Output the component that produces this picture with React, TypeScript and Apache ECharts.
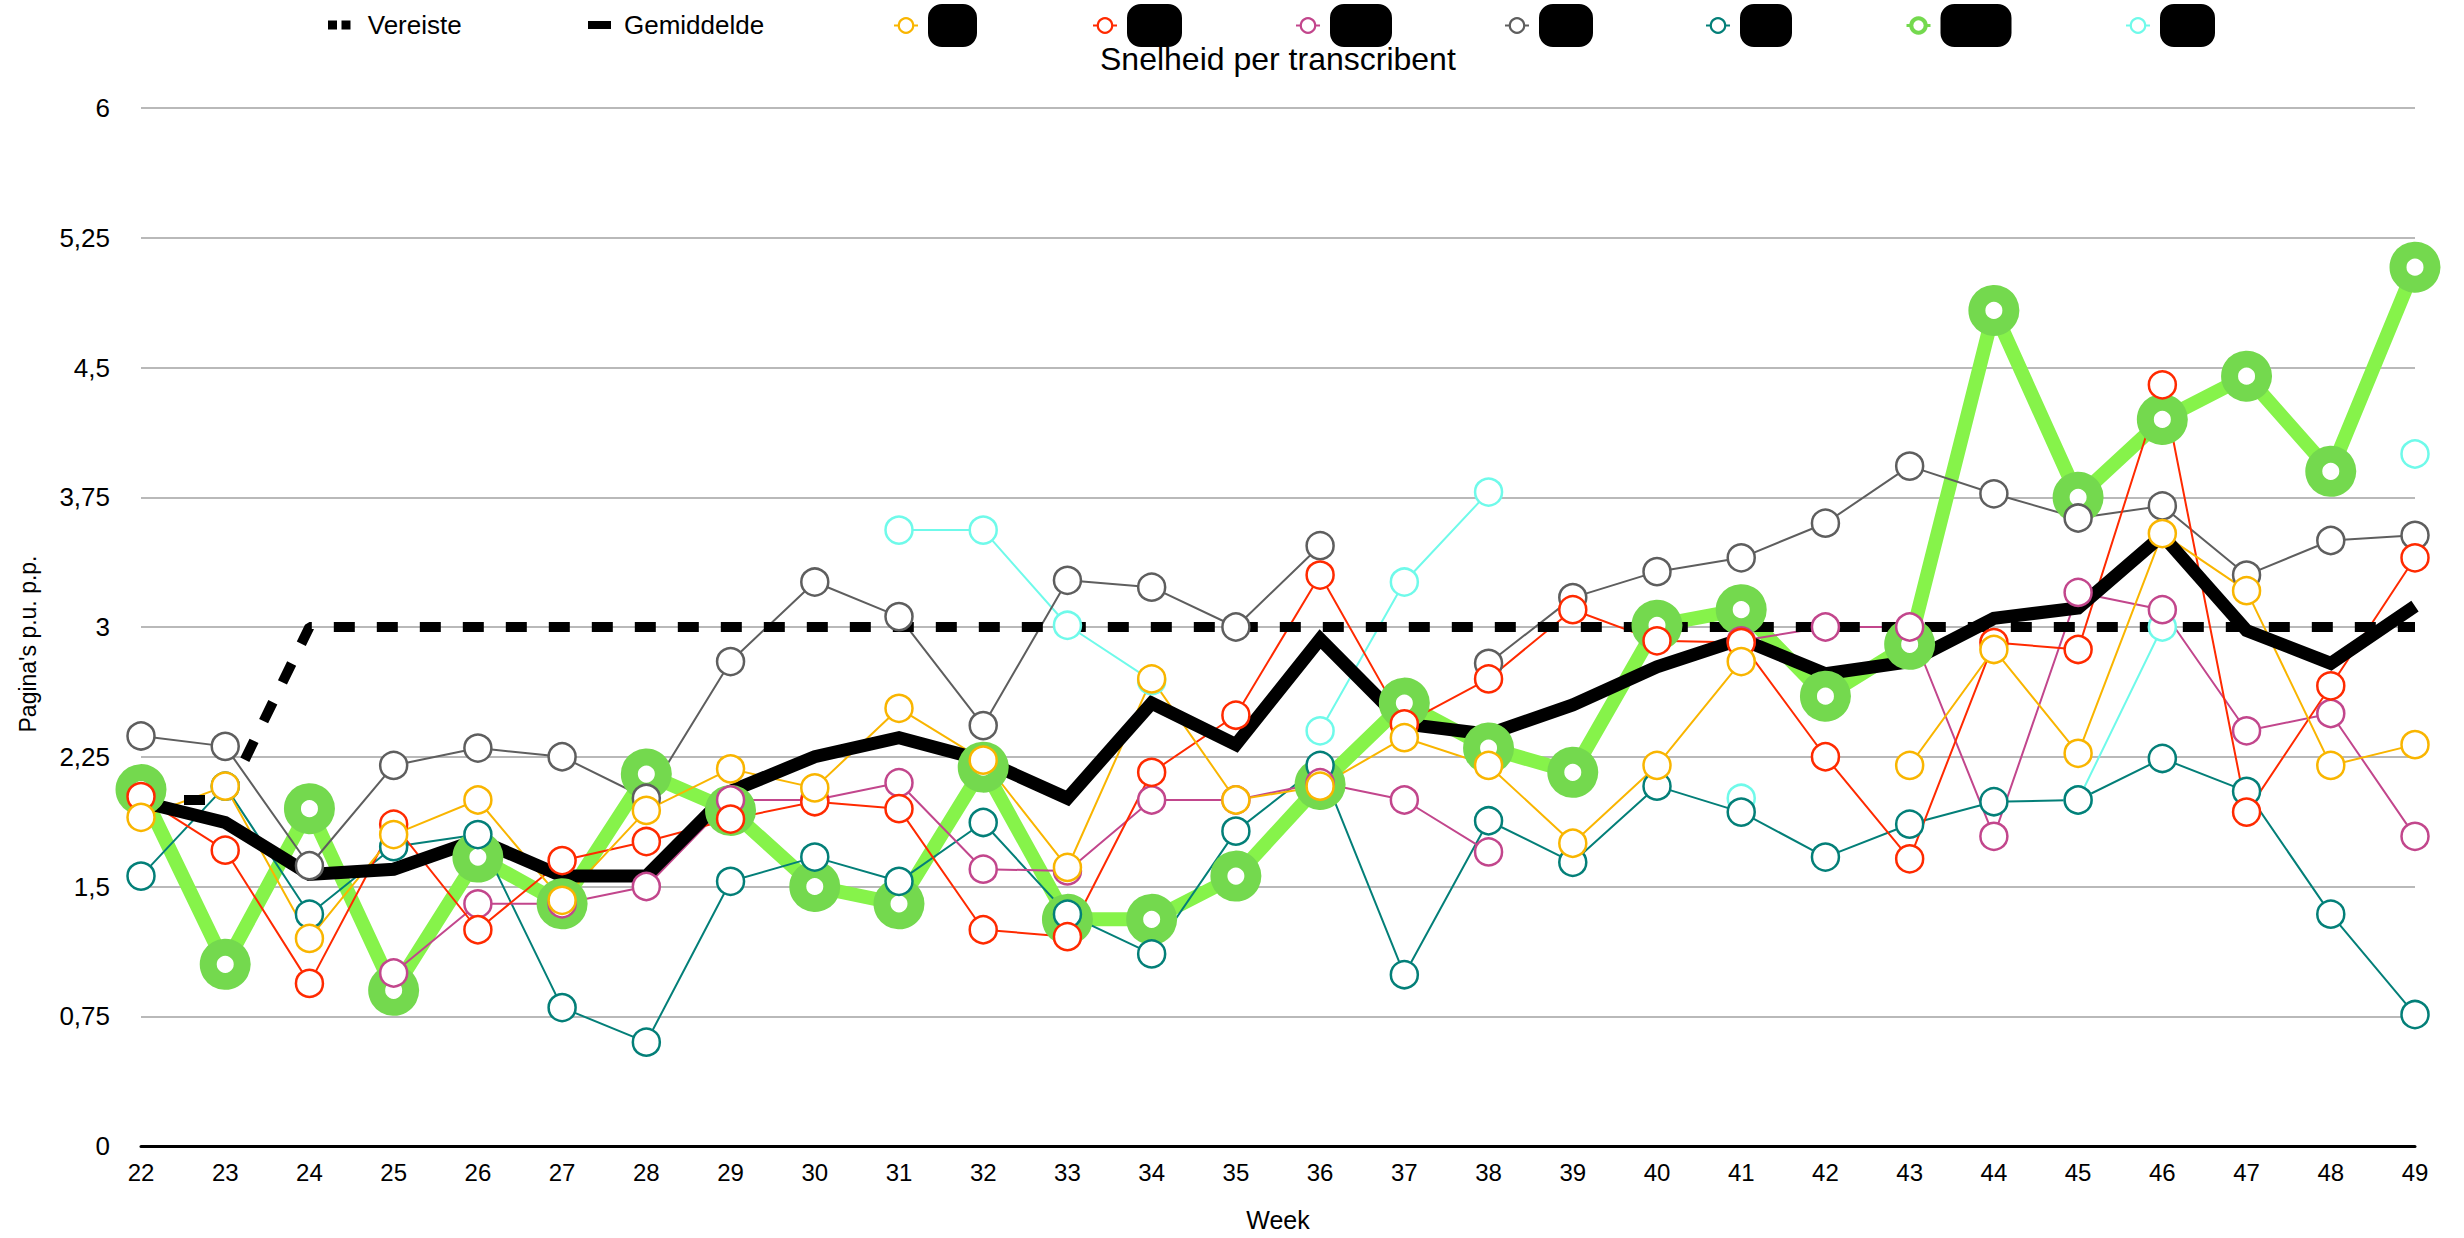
import React, { useEffect, useRef } from 'react';
import * as echarts from 'echarts';

const weeks = ['22', '23', '24', '25', '26', '27', '28', '29', '30', '31', '32', '33', '34', '35', '36', '37', '38', '39', '40', '41', '42', '43', '44', '45', '46', '47', '48', '49'];
const yTicks = [0, 0.75, 1.5, 2.25, 3, 3.75, 4.5, 5.25, 6];

const vereiste = [2, 2, 3, 3, 3, 3, 3, 3, 3, 3, 3, 3, 3, 3, 3, 3, 3, 3, 3, 3, 3, 3, 3, 3, 3, 3, 3, 3];
const gemiddelde = [1.99, 1.87, 1.57, 1.6, 1.77, 1.56, 1.56, 2.05, 2.25, 2.36, 2.23, 2.01, 2.56, 2.32, 2.93, 2.44, 2.38, 2.55, 2.77, 2.93, 2.73, 2.8, 3.05, 3.11, 3.53, 2.98, 2.79, 3.12];
const t1Yellow = [1.9, 2.08, 1.2, 1.8, 2.0, 1.42, 1.94, 2.18, 2.07, 2.53, 2.23, 1.61, 2.7, 2.0, 2.08, 2.36, 2.2, 1.75, 2.2, 2.8, null, 2.2, 2.87, 2.27, 3.54, 3.21, 2.2, 2.32];
const t2Red = [2.02, 1.71, 0.94, 1.86, 1.25, 1.65, 1.76, 1.89, 1.99, 1.95, 1.25, 1.21, 2.16, 2.49, 3.3, 2.44, 2.7, 3.1, 2.92, 2.91, 2.25, 1.66, 2.91, 2.87, 4.4, 1.93, 2.66, 3.4];
const t3Pink = [null, null, null, 1.0, 1.4, 1.4, 1.5, 2.0, 2.0, 2.1, 1.6, 1.59, 2.0, 2.0, 2.1, 2.0, 1.7, null, null, 2.92, 3.0, 3.0, 1.79, 3.2, 3.1, 2.4, 2.5, 1.79];
const t4Gray = [2.37, 2.31, 1.62, 2.2, 2.3, 2.25, 2.01, 2.8, 3.26, 3.06, 2.43, 3.27, 3.23, 3.0, 3.47, null, 2.79, 3.17, 3.32, 3.4, 3.6, 3.93, 3.77, 3.63, 3.7, 3.3, 3.5, 3.53];
const t5Teal = [1.56, 2.08, 1.34, 1.73, 1.8, 0.8, 0.6, 1.53, 1.67, 1.53, 1.87, 1.34, 1.11, 1.82, 2.2, 0.99, 1.88, 1.64, 2.08, 1.93, 1.67, 1.86, 1.99, 2.0, 2.24, 2.05, 1.34, 0.76];
const t6Green = [2.06, 1.05, 1.95, 0.9, 1.67, 1.4, 2.15, 1.94, 1.5, 1.4, 2.19, 1.31, 1.31, 1.56, 2.09, 2.56, 2.3, 2.16, 3.01, 3.1, 2.6, 2.9, 4.83, 3.75, 4.2, 4.45, 3.9, 5.08];
const t7Cyan = [null, null, null, null, null, null, null, null, null, 3.56, 3.56, 3.01, 2.69, null, 2.4, 3.26, 3.78, null, null, 2.01, null, null, null, 2.0, 3.0, null, null, 4.0];

const FONT = '"Liberation Sans", Arial, Helvetica, sans-serif';

export default function App() {
  const ref = useRef<HTMLDivElement>(null);

  useEffect(() => {
    if (!ref.current) return;
    const chart = echarts.init(ref.current, undefined, { renderer: 'svg' });

    const thin = (name: string, data: (number | null)[], color: string) => ({
      name,
      type: 'line',
      data,
      symbol: 'circle',
      symbolSize: 27,
      showSymbol: true,
      showAllSymbol: true,
      connectNulls: false,
      lineStyle: { color, width: 2 },
      itemStyle: { color: '#fff', borderColor: color, borderWidth: 2.5 },
      emphasis: { disabled: true },
    });

    const series: any[] = [
      {
        name: 'T6',
        type: 'line',
        data: t6Green,
        symbol: 'circle',
        symbolSize: 34,
        showAllSymbol: true,
        lineStyle: { color: '#86F34A', width: 14, join: 'round' },
        itemStyle: { color: '#fff', borderColor: '#74D94E', borderWidth: 17 },
        emphasis: { disabled: true },
      },
      thin('T7', t7Cyan, '#6FFAEA'),
      thin('T4', t4Gray, '#5E5E5E'),
      thin('T5', t5Teal, '#037F78'),
      thin('T3', t3Pink, '#C2468C'),
      thin('T2', t2Red, '#FF2A00'),
      thin('T1', t1Yellow, '#F9B500'),
      {
        name: 'Gemiddelde',
        type: 'line',
        data: gemiddelde,
        symbol: 'none',
        lineStyle: { color: '#000', width: 13, join: 'miter' },
        itemStyle: { color: '#000' },
        emphasis: { disabled: true },
      },
      {
        name: 'Vereiste',
        type: 'line',
        data: vereiste,
        symbol: 'none',
        lineStyle: { color: '#000', width: 10, type: [21, 22], cap: 'butt' },
        itemStyle: { color: '#000' },
        emphasis: { disabled: true },
      },
    ];

    const base = {
      top: 4,
      padding: 0,
      itemGap: 0,
      selectedMode: false,
      textStyle: { fontSize: 26, color: '#000', fontFamily: FONT },
    };

    const blob = (name: string, cx: number, w: number, color: string, ring = 2.2, lw = 2) => ({
      ...base,
      left: cx - 12,
      itemWidth: 24,
      itemHeight: 18,
      data: [{ name, itemStyle: { color: '#fff', borderColor: color, borderWidth: ring }, lineStyle: { color, width: lw } }],
      formatter: '{s| }{b|{name}}',
      textStyle: {
        fontSize: 14,
        color: '#000',
        fontFamily: FONT,
        rich: {
          s: { width: 5, fontSize: 4 },
          b: { width: w, height: 43, backgroundColor: '#000', borderRadius: 14, color: '#000', fontSize: 14, align: 'center' },
        },
      },
    });

    const legends: any[] = [
      {
        ...base,
        top: 12,
        left: 328,
        icon: 'path://M0,0H10V10H0Z M15,0H25V10H15Z',
        itemWidth: 25,
        itemHeight: 9,
        data: [{ name: 'Vereiste', itemStyle: { color: '#000' } }],
        textStyle: { ...base.textStyle, padding: [0, 0, 0, 11] },
      },
      {
        ...base,
        top: 12,
        left: 588,
        icon: 'rect',
        itemWidth: 23,
        itemHeight: 8,
        data: [{ name: 'Gemiddelde', itemStyle: { color: '#000' } }],
        textStyle: { ...base.textStyle, padding: [0, 0, 0, 8] },
      },
      blob('T1', 905, 49, '#F9B500'),
      blob('T2', 1104, 55, '#FF2A00'),
      blob('T3', 1307, 62, '#C2468C'),
      blob('T4', 1516, 54, '#5E5E5E'),
      blob('T5', 1717, 52, '#037F78'),
      blob('T6', 1917, 71, '#74D94E', 4, 3),
      blob('T7', 2137, 55, '#6FFAEA'),
    ];

    chart.setOption({
      animation: false,
      backgroundColor: '#fff',
      textStyle: { fontFamily: FONT },
      title: {
        text: 'Snelheid per transcribent',
        left: 1100,
        top: 43,
        padding: 0,
        textStyle: { fontSize: 32, fontWeight: 'normal', color: '#000', fontFamily: FONT },
      },
      legend: legends,
      grid: { left: 141, right: 49, top: 108, bottom: 92, containLabel: false },
      xAxis: {
        type: 'category',
        data: weeks,
        boundaryGap: false,
        axisLine: { lineStyle: { color: '#000', width: 3 } },
        axisTick: { show: false },
        axisLabel: { fontSize: 24, color: '#000', margin: 14, fontFamily: FONT },
        splitLine: { show: false },
        name: 'Week',
        nameLocation: 'middle',
        nameGap: 61,
        nameTextStyle: { fontSize: 25, color: '#000', fontFamily: FONT },
      },
      yAxis: {
        type: 'value',
        min: yTicks[0],
        max: yTicks[yTicks.length - 1],
        interval: yTicks[1] - yTicks[0],
        axisLine: { show: false },
        axisTick: { show: false },
        axisLabel: {
          fontSize: 26,
          color: '#000',
          margin: 31,
          fontFamily: FONT,
          formatter: (v: number) => String(v).replace('.', ','),
        },
        splitLine: { lineStyle: { color: '#B9B9B9', width: 2 } },
        name: "Pagina's p.u. p.p.",
        nameLocation: 'middle',
        nameGap: 102,
        nameRotate: 90,
        nameTextStyle: { fontSize: 23, color: '#000', fontFamily: FONT, padding: [0, 34, 0, 0] },
      },
      series,
    });

    return () => chart.dispose();
  }, []);

  return <div ref={ref} style={{ position: 'fixed', left: 0, top: 0, width: 2464, height: 1238 }} />;
}
